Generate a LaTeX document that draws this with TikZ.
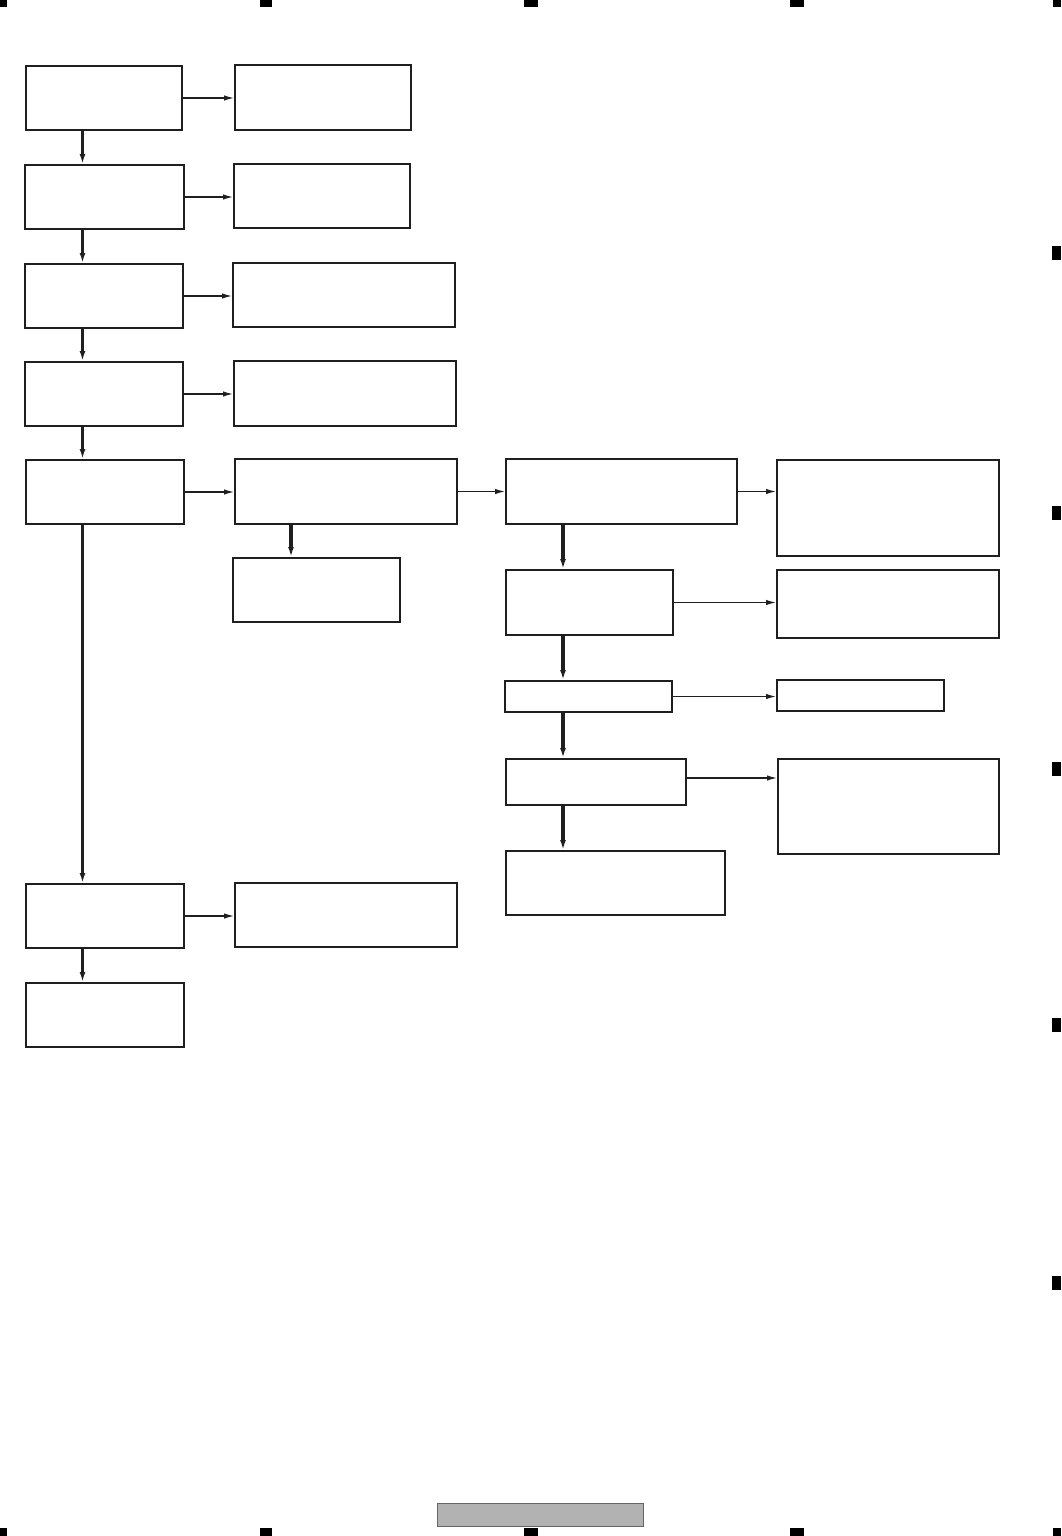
\documentclass[tikz,border=0pt]{standalone}
\usetikzlibrary{arrows.meta}
\begin{document}
\begin{tikzpicture}[x=1pt,y=-1pt,
  box/.style={draw=black!88, line width=2pt, inner sep=0pt, fill=white},
  harr/.style={draw=black!88, line width=1.3pt, -{Latex[length=10pt,width=5.5pt]}},
  varr/.style={draw=black!88, line width=3.4pt, -{Latex[length=10pt,width=6pt]}},
  regmark/.style={fill=black, draw=none},
  tab/.style={draw=black!60, fill=black!30, line width=0.9pt, inner sep=0pt},
]
\useasboundingbox (0,0) rectangle (1061,1536);
\newcommand\bx[5]{\node[box, minimum width={#4pt-#2pt-2pt}, minimum height={#5pt-#3pt-2pt}] (#1) at ({(#2+#4)/2},{(#3+#5)/2}) {};}
% boxes
\bx{A1}{25}{65}{183}{131}
\bx{B1}{234}{64}{412}{131}
\bx{A2}{24}{164}{185}{230}
\bx{B2}{233}{163}{411}{229}
\bx{A3}{24}{263}{184}{329}
\bx{B3}{232}{262}{456}{328}
\bx{A4}{24}{361}{184}{427}
\bx{B4}{233}{360}{457}{427}
\bx{A5}{25}{459}{185}{525}
\bx{B5}{234}{458}{458}{525}
\bx{C5}{505}{458}{738}{525}
\bx{D5}{776}{459}{1000}{557}
\bx{B6}{232}{557}{401}{623}
\bx{C6}{505}{569}{674}{636}
\bx{D6}{776}{569}{1000}{639}
\bx{C7}{504}{680}{673}{713}
\bx{D7}{776}{679}{945}{712}
\bx{C8}{505}{758}{687}{806}
\bx{D8}{777}{758}{1000}{855}
\bx{C9}{505}{850}{726}{916}
\bx{A10}{25}{883}{185}{949}
\bx{B10}{234}{882}{458}{948}
\bx{A11}{25}{982}{185}{1048}
% column guides
\coordinate (ca) at (82.5,0);
\coordinate (cb) at (291,0);
\coordinate (cc) at (563,0);
% vertical arrows
\draw[varr] (A1.south -| ca) -- (A2.north -| ca);
\draw[varr] (A2.south -| ca) -- (A3.north -| ca);
\draw[varr] (A3.south -| ca) -- (A4.north -| ca);
\draw[varr] (A4.south -| ca) -- (A5.north -| ca);
\draw[varr] (A5.south -| ca) -- (A10.north -| ca);
\draw[varr] (A10.south -| ca) -- (A11.north -| ca);
\draw[varr] (B5.south -| cb) -- (B6.north -| cb);
\draw[varr] (C5.south -| cc) -- (C6.north -| cc);
\draw[varr] (C6.south -| cc) -- (C7.north -| cc);
\draw[varr] (C7.south -| cc) -- (C8.north -| cc);
\draw[varr] (C8.south -| cc) -- (C9.north -| cc);
% horizontal arrows
\draw[harr] (A1.east) -- (A1.east -| B1.west);
\draw[harr] (A2.east) -- (A2.east -| B2.west);
\draw[harr] (A3.east) -- (A3.east -| B3.west);
\draw[harr] (A4.east) -- (A4.east -| B4.west);
\draw[harr] (A5.east) -- (A5.east -| B5.west);
\draw[harr] (B5.east) -- (B5.east -| C5.west);
\draw[harr] (C5.east) -- (C5.east -| D5.west);
\draw[harr] (C6.east) -- (C6.east -| D6.west);
\draw[harr] (C7.east) -- (C7.east -| D7.west);
\coordinate (c8o) at ([yshift=4pt]C8.east);
\draw[harr] (c8o) -- (c8o -| D8.west);
\draw[harr] (A10.east) -- (A10.east -| B10.west);
% bottom tab
\node[tab, minimum width=206pt, minimum height=23pt] (tab) at (540.5,1515) {};
% registration marks
\foreach \xa/\xb in {0/7,260/272,524/538,790/804,1053/1061}{
  \fill[regmark] (\xa,0) rectangle (\xb,7);
  \fill[regmark] (\xa,1528) rectangle (\xb,1536);
}
\foreach \ya in {246,506,762,1018,1276}{
  \fill[regmark] (1052,\ya) rectangle (1061,\ya+14);
}
\end{tikzpicture}
\end{document}
